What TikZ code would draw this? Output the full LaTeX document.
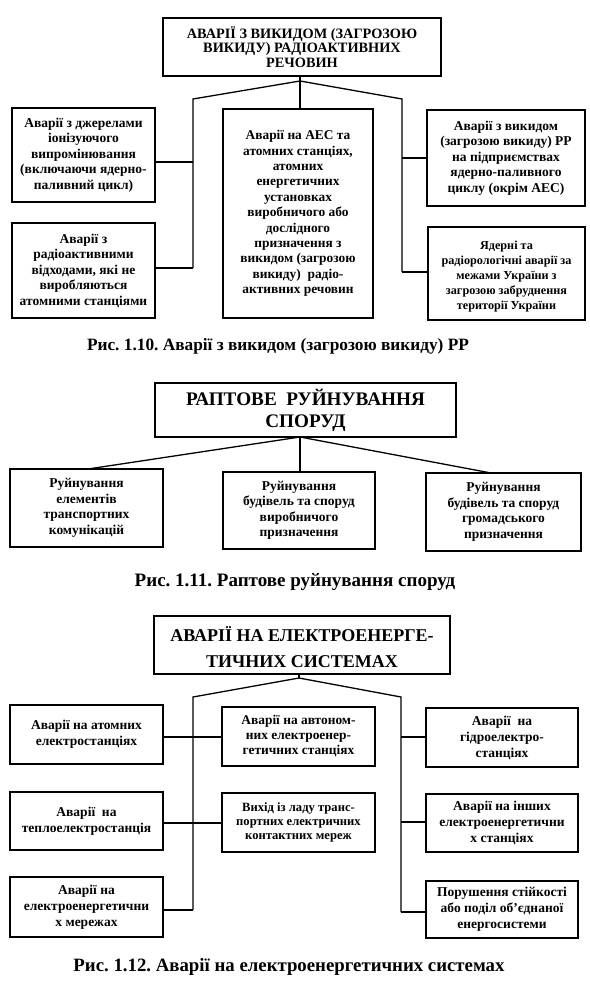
\documentclass[tikz,border=0pt]{standalone}
\usepackage{fontspec}
\setmainfont{Liberation Serif}
\frenchspacing
\begin{document}
\begin{tikzpicture}[x=1pt,y=-1pt,
  box/.style={draw, line width=1.6pt, align=center, inner sep=0pt, font=\bfseries\fontsize{13.5}{15.5}\selectfont},
  conn/.style={line width=1.3pt},
  figcap/.style={inner sep=0pt, anchor=base}]
\useasboundingbox (0,0) rectangle (589,981);
\fill[white] (0,0) rectangle (589,981);

% ---------- Fig 1.10 ----------
\node[box, minimum width=278pt, minimum height=58pt, font=\bfseries\fontsize{14.3}{14.7}\selectfont] (t1) at (302,47)
  {АВАРІЇ З ВИКИДОМ (ЗАГРОЗОЮ\\ВИКИДУ) РАДІОАКТИВНИХ\\РЕЧОВИН};
\node[box, minimum width=143pt, minimum height=94pt] (l1) at (83.5,155)
  {Аварії з джерелами\\іонізуючого\\випромінювання\\(включаючи ядерно-\\паливний цикл)};
\node[box, minimum width=143pt, minimum height=95pt] (l2) at (83.5,270.5)
  {Аварії з\\радіоактивними\\відходами, які не\\виробляються\\атомними станціями};
\node[box, minimum width=150pt, minimum height=209pt, font=\bfseries\fontsize{13.4}{15.4}\selectfont] (c0) at (298,213.5)
  {Аварії на АЕС та\\атомних станціях,\\атомних\\енергетичних\\установках\\виробничого або\\дослідного\\призначення з\\викидом (загрозою\\викиду)\ \ радіо-\\активних речовин};
\node[box, minimum width=158pt, minimum height=96pt] (r1) at (506,158)
  {Аварії з викидом\\(загрозою викиду) РР\\на підприємствах\\ядерно-паливного\\циклу (окрім АЕС)};
\node[box, minimum width=157pt, minimum height=93pt, font=\bfseries\fontsize{12.2}{15}\selectfont] (r2) at (506.5,273.5)
  {\rule{0pt}{14pt}Ядерні та\\радіорологічні аварії за\\межами України з\\загрозою забруднення\\території України};

\coordinate (a1) at (300,81);
\coordinate (lr1) at (193,99);
\coordinate (rr1) at (402,99);
\coordinate (jl1) at (193,162);
\coordinate (jl2) at (193,268);
\coordinate (jr1) at (402,158);
\coordinate (jr2) at (402,272);
\draw[conn] (t1.south -| a1) -- (c0.north -| a1);
\draw[conn] (jl2) -- (lr1) -- (a1) -- (rr1) -- (jr2);
\draw[conn] (l1.east |- jl1) -- (jl1);
\draw[conn] (l2.east |- jl2) -- (jl2);
\draw[conn] (r1.west |- jr1) -- (jr1);
\draw[conn] (r2.west |- jr2) -- (jr2);

\node[figcap, font=\bfseries\fontsize{17.3}{20}\selectfont] (cap1) at (278,350) {Рис. 1.10. Аварії з викидом (загрозою викиду) РР};

% ---------- Fig 1.11 ----------
\node[box, minimum width=301pt, minimum height=54pt, font=\bfseries\fontsize{19.2}{22}\selectfont] (t2) at (305.5,410)
  {РАПТОВЕ\ \ РУЙНУВАННЯ\\СПОРУД};
\node[box, minimum width=153pt, minimum height=78pt] (b1) at (86.5,508)
  {Руйнування\\елементів\\транспортних\\комунікацій};
\node[box, minimum width=152pt, minimum height=77pt] (b2) at (299,510.5)
  {Руйнування\\будівель та споруд\\виробничого\\призначення};
\node[box, minimum width=155pt, minimum height=78pt] (b3) at (503.5,512)
  {Руйнування\\будівель та споруд\\громадського\\призначення};
\coordinate (h2) at (300,437);
\coordinate (e1) at (88,469);
\coordinate (e3) at (491,473);
\draw[conn] (e1) -- (h2) -- (e3);
\draw[conn] (h2) -- (b2.north -| h2);

\node[figcap, font=\bfseries\fontsize{19}{22}\selectfont] (cap2) at (295,586) {Рис. 1.11. Раптове руйнування споруд};

% ---------- Fig 1.12 ----------
\node[box, minimum width=296pt, minimum height=58pt, font=\bfseries\fontsize{18}{26.5}\selectfont] (t3) at (302,645)
  {\rule{0pt}{19pt}АВАРІЇ НА ЕЛЕКТРОЕНЕРГЕ-\\ТИЧНИХ СИСТЕМАХ};
\node[box, minimum width=153pt, minimum height=59pt, font=\bfseries\fontsize{13.5}{16}\selectfont] (m1) at (86.5,734.5)
  {Аварії на атомних\\електростанціях};
\node[box, minimum width=153pt, minimum height=58pt, font=\bfseries\fontsize{13.5}{16}\selectfont] (m2) at (86.5,821)
  {Аварії\ \ на\\теплоелектростанція};
\node[box, minimum width=153pt, minimum height=60pt, font=\bfseries\fontsize{13.5}{16}\selectfont] (m3) at (86.5,907)
  {Аварії на\\електроенергетични\\х мережах};
\node[box, minimum width=153pt, minimum height=59pt, font=\bfseries\fontsize{13.4}{15}\selectfont] (n1) at (298.5,736.5)
  {Аварії на автоном-\\них електроенер-\\гетичних станціях};
\node[box, minimum width=153pt, minimum height=59pt, font=\bfseries\fontsize{12.6}{14}\selectfont] (n2) at (298.5,822.5)
  {Вихід із ладу транс-\\портних електричних\\контактних мереж};
\node[box, minimum width=152pt, minimum height=59pt, font=\bfseries\fontsize{13.5}{16}\selectfont] (p1) at (502,737.5)
  {Аварії\ \ на\\гідроелектро-\\станціях};
\node[box, minimum width=152pt, minimum height=58pt, font=\bfseries\fontsize{13.5}{16}\selectfont] (p2) at (502,823)
  {Аварії на інших\\електроенергетични\\х станціях};
\node[box, minimum width=152pt, minimum height=57pt, font=\bfseries\fontsize{13.5}{16}\selectfont] (p3) at (502,909.5)
  {Порушення стійкості\\або поділ об’єднаної\\енергосистеми};

\coordinate (a3) at (299,678);
\coordinate (lr3) at (193,697);
\coordinate (rr3) at (401,697);
\coordinate (kl1) at (193,737);
\coordinate (kl2) at (193,823);
\coordinate (kl3) at (193,910);
\coordinate (kr1) at (401,737);
\coordinate (kr2) at (401,822);
\coordinate (kr3) at (401,912);
\draw[conn] (t3.south -| a3) -- (a3);
\draw[conn] (kl3) -- (lr3) -- (a3) -- (rr3) -- (kr3);
\draw[conn] (m1.east |- kl1) -- (n1.west |- kl1);
\draw[conn] (m2.east |- kl2) -- (n2.west |- kl2);
\draw[conn] (m3.east |- kl3) -- (kl3);
\draw[conn] (p1.west |- kr1) -- (kr1);
\draw[conn] (p2.west |- kr2) -- (kr2);
\draw[conn] (p3.west |- kr3) -- (kr3);

\node[figcap, font=\bfseries\fontsize{18.8}{22}\selectfont] (cap3) at (289,971) {Рис. 1.12. Аварії на електроенергетичних системах};
\end{tikzpicture}
\end{document}
